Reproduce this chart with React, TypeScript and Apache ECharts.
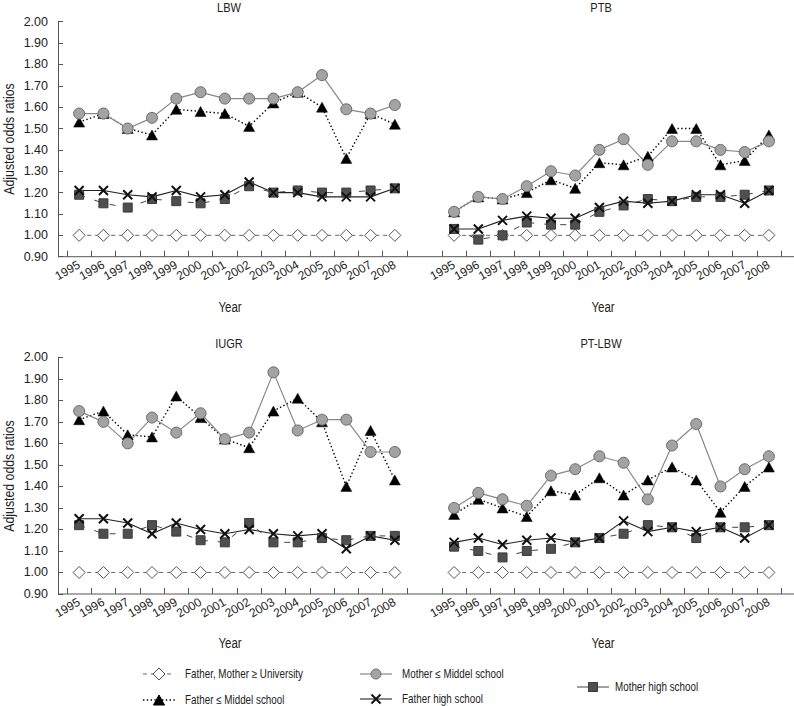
import React, { useEffect, useRef } from 'react';
import * as echarts from 'echarts';

const years = ['1995', '1996', '1997', '1998', '1999', '2000', '2001', '2002', '2003', '2004', '2005', '2006', '2007', '2008'];
const panelTitles = ['LBW', 'PTB', 'IUGR', 'PT-LBW'];
const seriesNames = [
  'Father, Mother \u2265 University',
  'Father \u2264 Middel school',
  'Mother \u2264 Middel school',
  'Father high school',
  'Mother high school',
];
const yAxisName = 'Adjusted odds ratios';
const xAxisName = 'Year';

const univ = [1.0, 1.0, 1.0, 1.0, 1.0, 1.0, 1.0, 1.0, 1.0, 1.0, 1.0, 1.0, 1.0, 1.0];

const lbwFatherMid = [1.53, 1.57, 1.5, 1.47, 1.59, 1.58, 1.57, 1.51, 1.62, 1.67, 1.6, 1.36, 1.57, 1.52];
const lbwMotherMid = [1.57, 1.57, 1.5, 1.55, 1.64, 1.67, 1.64, 1.64, 1.64, 1.67, 1.75, 1.59, 1.57, 1.61];
const lbwFatherHigh = [1.21, 1.21, 1.19, 1.18, 1.21, 1.18, 1.19, 1.25, 1.2, 1.2, 1.18, 1.18, 1.18, 1.22];
const lbwMotherHigh = [1.19, 1.15, 1.13, 1.17, 1.16, 1.15, 1.17, 1.23, 1.2, 1.21, 1.2, 1.2, 1.21, 1.22];

const ptbFatherMid = [1.11, 1.18, 1.17, 1.2, 1.26, 1.22, 1.34, 1.33, 1.37, 1.5, 1.5, 1.33, 1.35, 1.47];
const ptbMotherMid = [1.11, 1.18, 1.17, 1.23, 1.3, 1.28, 1.4, 1.45, 1.33, 1.44, 1.44, 1.4, 1.39, 1.44];
const ptbFatherHigh = [1.03, 1.03, 1.07, 1.09, 1.08, 1.08, 1.13, 1.16, 1.15, 1.16, 1.19, 1.19, 1.15, 1.21];
const ptbMotherHigh = [1.03, 0.98, 1.0, 1.06, 1.05, 1.05, 1.11, 1.14, 1.17, 1.16, 1.18, 1.18, 1.19, 1.21];

const iugrFatherMid = [1.71, 1.75, 1.64, 1.63, 1.82, 1.72, 1.62, 1.58, 1.75, 1.81, 1.7, 1.4, 1.66, 1.43];
const iugrMotherMid = [1.75, 1.7, 1.6, 1.72, 1.65, 1.74, 1.62, 1.65, 1.93, 1.66, 1.71, 1.71, 1.56, 1.56];
const iugrFatherHigh = [1.25, 1.25, 1.23, 1.18, 1.23, 1.2, 1.18, 1.2, 1.18, 1.17, 1.18, 1.11, 1.17, 1.15];
const iugrMotherHigh = [1.22, 1.18, 1.18, 1.22, 1.19, 1.15, 1.14, 1.23, 1.14, 1.14, 1.16, 1.15, 1.17, 1.17];

const ptlbwFatherMid = [1.27, 1.34, 1.3, 1.26, 1.38, 1.36, 1.44, 1.36, 1.43, 1.49, 1.43, 1.28, 1.4, 1.49];
const ptlbwMotherMid = [1.3, 1.37, 1.34, 1.31, 1.45, 1.48, 1.54, 1.51, 1.34, 1.59, 1.69, 1.4, 1.48, 1.54];
const ptlbwFatherHigh = [1.14, 1.16, 1.13, 1.15, 1.16, 1.14, 1.16, 1.24, 1.19, 1.21, 1.19, 1.21, 1.16, 1.22];
const ptlbwMotherHigh = [1.12, 1.1, 1.07, 1.1, 1.11, 1.14, 1.16, 1.18, 1.22, 1.21, 1.16, 1.21, 1.21, 1.22];

const panels = [
  { univ, fatherMid: lbwFatherMid, motherMid: lbwMotherMid, fatherHigh: lbwFatherHigh, motherHigh: lbwMotherHigh },
  { univ, fatherMid: ptbFatherMid, motherMid: ptbMotherMid, fatherHigh: ptbFatherHigh, motherHigh: ptbMotherHigh },
  { univ, fatherMid: iugrFatherMid, motherMid: iugrMotherMid, fatherHigh: iugrFatherHigh, motherHigh: iugrMotherHigh },
  { univ, fatherMid: ptlbwFatherMid, motherMid: ptlbwMotherMid, fatherHigh: ptlbwFatherHigh, motherHigh: ptlbwMotherHigh },
];

const FONT = '"Liberation Sans", Arial, sans-serif';
const NARROW = 0.82;
const TXT = '#222';
const AX = '#555';
const X_PATH = 'path://M0,0L10,10M10,0L0,10';

const styles = {
  univ: {
    symbol: 'diamond', symbolSize: [12, 12],
    itemStyle: { color: '#fff', borderColor: '#555', borderWidth: 1 },
    lineStyle: { color: '#666', width: 1, type: [4, 4] },
  },
  fatherMid: {
    symbol: 'triangle', symbolSize: [11, 10],
    itemStyle: { color: '#000', borderColor: '#000', borderWidth: 0.5 },
    lineStyle: { color: '#000', width: 1.4, type: [1.4, 2.4] },
  },
  motherMid: {
    symbol: 'circle', symbolSize: 11,
    itemStyle: { color: '#a3a3a3', borderColor: '#6a6a6a', borderWidth: 1 },
    lineStyle: { color: '#888', width: 1.2, type: 'solid' },
  },
  fatherHigh: {
    symbol: X_PATH, symbolSize: 9,
    itemStyle: { color: '#111', borderColor: '#111', borderWidth: 2 },
    lineStyle: { color: '#222', width: 1.1, type: 'solid' },
  },
  motherHigh: {
    symbol: 'rect', symbolSize: 9,
    itemStyle: { color: '#4f4f4f', borderColor: '#3a3a3a', borderWidth: 1 },
    lineStyle: { color: '#444', width: 1, type: [6, 10] },
  },
};

const grids = [
  { left: 67, top: 21.7, width: 340, height: 235 },
  { left: 442, top: 21.7, width: 339, height: 235 },
  { left: 67, top: 357.3, width: 340, height: 236.7 },
  { left: 442, top: 357.3, width: 339, height: 236.7 },
];

const drawOrder = ['univ', 'motherHigh', 'fatherHigh', 'fatherMid', 'motherMid'];
const nameIndex = { univ: 0, fatherMid: 1, motherMid: 2, fatherHigh: 3, motherHigh: 4 };

function narrowText(text, x, y, size, align, extra = {}) {
  return {
    type: 'text', x, y, scaleX: NARROW, ...extra,
    style: { text, fill: TXT, font: `${size}px ${FONT}`, align, verticalAlign: 'middle' },
  };
}

function legendItem(key, cx, cy, textX) {
  const st = styles[key];
  const els = [];
  const dash = key === 'motherHigh' ? null : (Array.isArray(st.lineStyle.type) ? st.lineStyle.type : null);
  els.push({
    type: 'line',
    shape: { x1: cx - 16, y1: cy, x2: cx + 16, y2: cy },
    style: { stroke: st.lineStyle.color, lineWidth: st.lineStyle.width, lineDash: dash },
  });
  const fill = st.itemStyle.color;
  const stroke = st.itemStyle.borderColor;
  if (key === 'univ') {
    els.push({ type: 'polygon', shape: { points: [[cx, cy - 6], [cx + 6, cy], [cx, cy + 6], [cx - 6, cy]] }, style: { fill, stroke, lineWidth: 1 } });
  } else if (key === 'fatherMid') {
    els.push({ type: 'polygon', shape: { points: [[cx, cy - 5], [cx + 5.5, cy + 5], [cx - 5.5, cy + 5]] }, style: { fill, stroke } });
  } else if (key === 'motherMid') {
    els.push({ type: 'circle', shape: { cx, cy, r: 5 }, style: { fill, stroke, lineWidth: 1 } });
  } else if (key === 'fatherHigh') {
    els.push({ type: 'line', shape: { x1: cx - 4.5, y1: cy - 4.5, x2: cx + 4.5, y2: cy + 4.5 }, style: { stroke, lineWidth: 2 } });
    els.push({ type: 'line', shape: { x1: cx + 4.5, y1: cy - 4.5, x2: cx - 4.5, y2: cy + 4.5 }, style: { stroke, lineWidth: 2 } });
  } else {
    els.push({ type: 'rect', shape: { x: cx - 4.5, y: cy - 4.5, width: 9, height: 9 }, style: { fill, stroke, lineWidth: 1 } });
  }
  els.push(narrowText(seriesNames[nameIndex[key]], textX, cy, 12, 'left'));
  return els;
}

export default function App() {
  const ref = useRef(null);
  useEffect(() => {
    document.body.style.margin = '0';
    const chart = echarts.init(ref.current, null, { renderer: 'svg' });

    const series = [];
    panels.forEach((p, i) => {
      drawOrder.forEach((key) => {
        const st = styles[key];
        series.push({
          type: 'line',
          name: seriesNames[nameIndex[key]],
          xAxisIndex: i,
          yAxisIndex: i,
          data: p[key],
          symbol: st.symbol,
          symbolSize: st.symbolSize,
          showAllSymbol: true,
          itemStyle: st.itemStyle,
          lineStyle: st.lineStyle,
          emphasis: { disabled: true },
        });
      });
    });

    const graphic = [];
    const titlePos = [[229, 8], [601, 8], [229, 344], [601, 344]];
    panelTitles.forEach((t, i) => {
      graphic.push(narrowText(t, titlePos[i][0], titlePos[i][1], 13.5, 'center'));
    });
    [[230, 307], [603, 307], [230, 643], [603, 643]].forEach(([x, y]) => {
      graphic.push(narrowText(xAxisName, x, y, 14, 'center'));
    });
    [[9, 139], [9, 476]].forEach(([x, y]) => {
      graphic.push(narrowText(yAxisName, x, y, 15, 'center', { rotation: Math.PI / 2 }));
    });
    [256.7, 594].forEach((y) => {
      graphic.push({ type: 'line', shape: { x1: 58, y1: y, x2: 794, y2: y }, style: { stroke: AX, lineWidth: 1 } });
    });
    graphic.push(...legendItem('univ', 159, 674, 185));
    graphic.push(...legendItem('fatherMid', 159, 700, 185));
    graphic.push(...legendItem('motherMid', 376, 674, 402));
    graphic.push(...legendItem('fatherHigh', 376, 699, 402));
    graphic.push(...legendItem('motherHigh', 593, 687, 615));

    chart.setOption({
      animation: false,
      grid: grids.map((g) => ({ ...g, containLabel: false })),
      xAxis: grids.map((g, i) => ({
        type: 'category',
        gridIndex: i,
        data: years,
        boundaryGap: true,
        axisLine: { show: false },
        axisTick: { show: true, inside: true, length: 6, lineStyle: { color: AX } },
        axisLabel: { rotate: 30, margin: 7, color: TXT, fontSize: 12, fontFamily: FONT, interval: 0 },
        splitLine: { show: false },
      })),
      yAxis: grids.map((g, i) => ({
        type: 'value',
        gridIndex: i,
        min: 0.9,
        max: 2.0,
        interval: 0.1,
        show: i % 2 === 0,
        offset: 9,
        axisLine: { show: true, lineStyle: { color: AX } },
        axisTick: { show: true, inside: true, length: 5, lineStyle: { color: AX } },
        axisLabel: { margin: 10, color: TXT, fontSize: 12.5, fontFamily: FONT, formatter: (v) => v.toFixed(2) },
        splitLine: { show: false },
      })),
      series,
      graphic,
    });
    return () => chart.dispose();
  }, []);
  return <div ref={ref} style={{ width: 794, height: 706 }} />;
}
